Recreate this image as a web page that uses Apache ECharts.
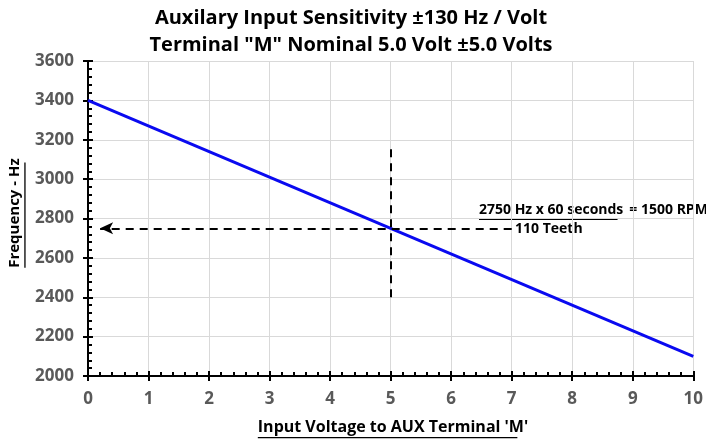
<!DOCTYPE html>
<html>
<head>
<meta charset="utf-8">
<script src="https://cdn.jsdelivr.net/npm/echarts@6/dist/echarts.min.js"></script>
<style>
  html, body { margin: 0; padding: 0; background: #fff; }
  #main { width: 706px; height: 441px; }
</style>
</head>
<body>
<div id="main"></div>
<script>
// data
var voltage = [0, 10];
var frequency = [3400, 2100];
var yTicks = { min: 2000, max: 3600, step: 200 };
var xTicks = { min: 0, max: 10, step: 1 };
var refPoint = [5, 2750];          // 5 V -> 2750 Hz
var vLine = [2400, 3175];          // vertical dashed guide (Hz)
var hLine = [7, 0.2];              // horizontal dashed arrow (V)

var FONT = "'Open Sans', 'DejaVu Sans', sans-serif";

// measure text width with zrender itself so underlines fit what is drawn
function textWidth(txt, size) {
  var t = new echarts.graphic.Text({ style: { text: txt, font: "bold " + size + "px " + FONT } });
  return t.getBoundingRect().width;
}

// text with underline, anchored at its left edge
function underlined(txt, x, y, size, rotation) {
  var w = textWidth(txt, size) * 0.96;
  return {
    type: "group",
    x: x,
    y: y,
    rotation: rotation || 0,
    children: [
      {
        type: "text",
        style: { text: txt, font: "bold " + size + "px " + FONT, fill: "#000", textAlign: "left", textVerticalAlign: "middle" }
      },
      {
        type: "rect",
        shape: { x: 0, y: size * 0.62, width: w, height: 1.3 },
        style: { fill: "#000" }
      }
    ]
  };
}

var chartDom = document.getElementById("main");
var myChart = echarts.init(chartDom);

var plain = function (v) { return String(v); };
var axisLabelY = { color: "#595959", fontWeight: "bold", fontSize: 17, fontFamily: FONT, margin: 14, formatter: plain };
var axisLabelX = { color: "#595959", fontWeight: "bold", fontSize: 17, fontFamily: FONT, margin: 15, formatter: plain };

var yName = "Frequency - Hz";
var xName = "Input Voltage to AUX Terminal 'M'";
var note1 = "2750 Hz x 60 seconds";

var option = {
  animation: false,
  title: {
    text: "Auxilary Input Sensitivity \u00b1130 Hz / Volt\nTerminal \"M\" Nominal 5.0 Volt \u00b15.0 Volts",
    left: 346,
    top: 0,
    textAlign: "center",
    textStyle: { fontFamily: FONT, fontWeight: "bold", fontSize: 20, color: "#000", lineHeight: 27 }
  },
  grid: { left: 88, right: 11, top: 61, bottom: 65 },
  xAxis: [
    {
      type: "value",
      min: xTicks.min,
      max: xTicks.max,
      interval: xTicks.step,
      axisLine: { lineStyle: { color: "#000", width: 2 } },
      axisTick: { show: true, inside: true, length: 5, lineStyle: { color: "#000", width: 2 } },
      minorTick: { show: true, splitNumber: 5, length: 4, lineStyle: { color: "#000", width: 2 } },
      splitLine: { show: true, lineStyle: { color: "#d9d9d9", width: 1 } },
      axisLabel: axisLabelX
    },
    {
      type: "value",
      position: "bottom",
      min: xTicks.min,
      max: xTicks.max,
      interval: xTicks.step,
      axisLine: { show: false },
      axisTick: { show: true, inside: false, length: 5, lineStyle: { color: "#000", width: 2 } },
      splitLine: { show: false },
      axisLabel: { show: false }
    }
  ],
  yAxis: [
    {
      type: "value",
      min: yTicks.min,
      max: yTicks.max,
      interval: yTicks.step,
      axisLine: { show: true, lineStyle: { color: "#000", width: 2 } },
      axisTick: { show: true, inside: true, length: 5, lineStyle: { color: "#000", width: 2 } },
      minorTick: { show: true, splitNumber: 5, length: 4, lineStyle: { color: "#000", width: 2 } },
      splitLine: { show: true, lineStyle: { color: "#d9d9d9", width: 1 } },
      axisLabel: axisLabelY
    },
    {
      type: "value",
      position: "left",
      min: yTicks.min,
      max: yTicks.max,
      interval: yTicks.step,
      axisLine: { show: false },
      axisTick: { show: true, inside: false, length: 5, lineStyle: { color: "#000", width: 2 } },
      splitLine: { show: false },
      axisLabel: { show: false }
    }
  ],
  series: [
    {
      type: "line",
      data: voltage.map(function (v, i) { return [v, frequency[i]]; }),
      showSymbol: false,
      lineStyle: { color: "#0a0af0", width: 3 },
      markLine: {
        silent: true,
        animation: false,
        label: { show: false },
        lineStyle: { color: "#000", width: 2, type: [8, 6] },
        data: [
          [
            { coord: [refPoint[0], vLine[0]], symbol: "none" },
            { coord: [refPoint[0], vLine[1]], symbol: "none" }
          ],
          [
            { coord: [hLine[0], refPoint[1]], symbol: "none" },
            { coord: [hLine[1], refPoint[1]], symbol: "arrow", symbolSize: [9, 13] }
          ]
        ]
      }
    }
  ],
  graphic: [
    underlined(yName, 15, 213 + textWidth(yName, 15) / 2, 15, Math.PI / 2),
    underlined(xName, 393 - textWidth(xName, 16) / 2, 427, 16),
    underlined(note1, 479, 210, 14),
    {
      type: "text",
      x: 479 + textWidth(note1, 14) + 6,
      y: 210,
      style: { text: "= 1500 RPM", font: "bold 14px " + FONT, fill: "#000", textVerticalAlign: "middle" }
    },
    {
      type: "text",
      x: 515,
      y: 229,
      style: { text: "110 Teeth", font: "bold 14px " + FONT, fill: "#000", textVerticalAlign: "middle" }
    }
  ]
};

option && myChart.setOption(option);
</script>
</body>
</html>
